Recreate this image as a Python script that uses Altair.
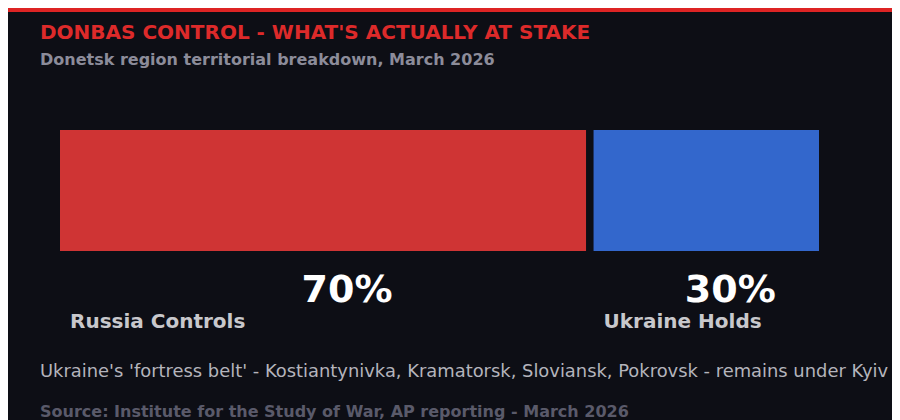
import altair as alt
import pandas as pd

# ---- data ----
labels = ["Russia Controls", "Ukraine Holds"]
shares = [70, 30]
bar_colors = ["#cf3434", "#3367cc"]

title_text = "DONBAS CONTROL - WHAT'S ACTUALLY AT STAKE"
subtitle_text = "Donetsk region territorial breakdown, March 2026"
note_text = "Ukraine's 'fortress belt' - Kostiantynivka, Kramatorsk, Sloviansk, Pokrovsk - remains under Kyiv"
source_text = "Source: Institute for the Study of War, AP reporting - March 2026"

GAP = 1
starts, ends = [], []
pos = 0
for s in shares:
    starts.append(pos)
    ends.append(pos + s)
    pos += s + GAP
total = ends[-1]

df = pd.DataFrame({
    "label": labels,
    "share": shares,
    "start": starts,
    "end": ends,
})
df["mid"] = (df["start"] + df["end"]) / 2
df["pct"] = df["share"].astype(str) + "%"

BG = "#0d0e15"
FONT = "DejaVu Sans"

xscale = alt.Scale(domain=[0, total], range=[52, 811])
cscale = alt.Scale(domain=labels, range=bar_colors)

base = alt.Chart(df)

bars = base.mark_bar(cornerRadius=0).encode(
    x=alt.X("start:Q", scale=xscale, axis=None),
    x2="end:Q",
    y=alt.value(122),
    y2=alt.value(243),
    color=alt.Color("label:N", scale=cscale, legend=None),
)

pct = base.mark_text(
    font=FONT, fontSize=38, fontWeight="bold", color="#ffffff",
    align="center", baseline="alphabetic", dx=24,
).encode(
    x=alt.X("mid:Q", scale=xscale, axis=None),
    y=alt.value(294),
    text="pct:N",
)

lab = base.mark_text(
    font=FONT, fontSize=20, fontWeight="bold", color="#c8c8cc",
    align="left", baseline="alphabetic", dx=10,
).encode(
    x=alt.X("start:Q", scale=xscale, axis=None),
    y=alt.value(320),
    text="label:N",
)

def txt(t, x, y, size, color, weight="normal"):
    return alt.Chart(pd.DataFrame({"t": [t]})).mark_text(
        font=FONT, fontSize=size, fontWeight=weight, color=color,
        align="left", baseline="alphabetic",
    ).encode(x=alt.value(x), y=alt.value(y), text="t:N")

topline = alt.Chart(pd.DataFrame({"a": [0]})).mark_rule(
    color="#dd2424", strokeWidth=4
).encode(x=alt.value(0), x2=alt.value(884), y=alt.value(2))

title = txt(title_text, 32, 31, 20, "#dd2a2a", "bold")
subtitle = txt(subtitle_text, 32, 57, 16, "#8c8c9a", "bold")
note = txt(note_text, 32, 369, 17.9, "#b4b4bc")
source = txt(source_text, 32, 409, 16, "#5a5a6a", "bold")

chart = alt.layer(
    topline, bars, pct, lab, title, subtitle, note, source
).properties(
    width=884,
    height=412,
    background=BG,
    padding=0,
    autosize=alt.AutoSizeParams(type="none"),
).configure_view(stroke=None)

chart.save("out.html", embed_options={"renderer": "svg", "actions": False})
